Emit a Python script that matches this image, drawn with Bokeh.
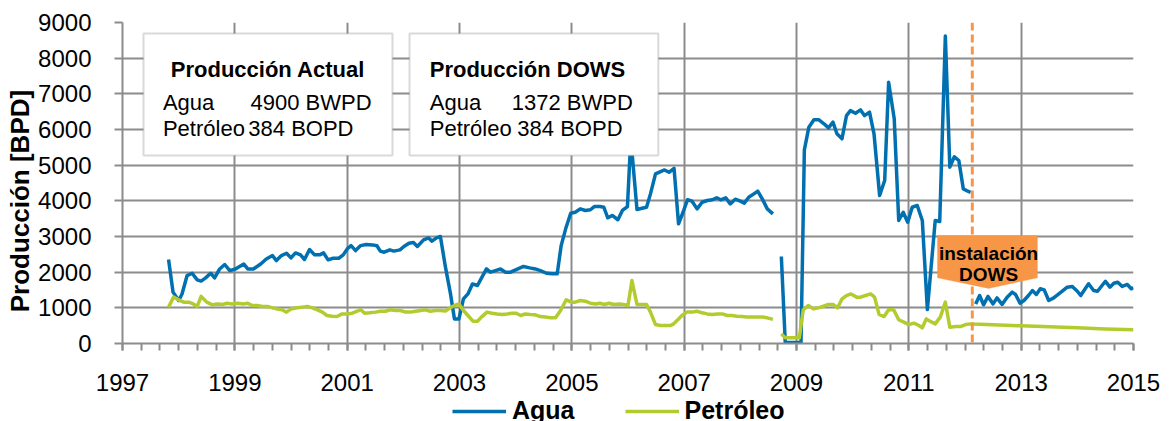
from bokeh.plotting import figure
from bokeh.layouts import column
from bokeh.models import (Range1d, FixedTicker, Span, BoxAnnotation, Label,
                          Legend, LegendItem, PolyAnnotation)
from bokeh.embed import file_html
from bokeh.resources import INLINE

FONT = "Liberation Sans"
BLUE = "#0070B0"
GREEN = "#B4CB2F"
ORANGE = "#F79646"
GRID = "#8C8C8C"
BOXLINE = "#808080"

# ---------------- data (decimal year, BPD) ----------------
agua_t1 = [1997.82, 1997.90, 1998.00, 1998.06, 1998.15, 1998.24, 1998.33, 1998.40, 1998.48, 1998.57,
           1998.64, 1998.73, 1998.82, 1998.91, 1999.01, 1999.16, 1999.23, 1999.33, 1999.46, 1999.56,
           1999.67, 1999.74, 1999.83, 1999.92, 2000.00, 2000.08, 2000.17, 2000.24, 2000.33, 2000.42,
           2000.51, 2000.58, 2000.66, 2000.75, 2000.85, 2000.93, 2001.01, 2001.07, 2001.15, 2001.24,
           2001.34, 2001.45, 2001.53, 2001.59, 2001.66, 2001.76, 2001.83, 2001.94, 2002.01, 2002.10,
           2002.18, 2002.25, 2002.36, 2002.45, 2002.51, 2002.59, 2002.66, 2002.75, 2002.84, 2002.91,
           2002.99, 2003.07, 2003.15, 2003.23, 2003.32, 2003.40, 2003.48, 2003.55, 2003.64, 2003.73,
           2003.82, 2003.91, 2004.00, 2004.14, 2004.25, 2004.35, 2004.44, 2004.55, 2004.65, 2004.74,
           2004.81, 2004.89, 2004.98, 2005.06, 2005.15, 2005.24, 2005.33, 2005.40, 2005.50, 2005.57,
           2005.64, 2005.72, 2005.82, 2005.90, 2005.99, 2006.05, 2006.16, 2006.25, 2006.33, 2006.40,
           2006.49, 2006.58, 2006.65, 2006.73, 2006.82, 2006.90, 2006.98, 2007.06, 2007.14, 2007.23,
           2007.32, 2007.41, 2007.50, 2007.58, 2007.65, 2007.74, 2007.82, 2007.91, 2008.00, 2008.07,
           2008.15, 2008.24, 2008.31, 2008.39, 2008.48, 2008.58]
agua_v1 = [2355, 1440, 1205, 1390, 1905, 1970, 1785, 1750, 1840, 1970,
           1840, 2090, 2215, 2045, 2090, 2230, 2090, 2090, 2230, 2370,
           2465, 2325, 2465, 2530, 2400, 2540, 2485, 2355, 2635, 2485,
           2485, 2540, 2345, 2390, 2390, 2485, 2670, 2745, 2605, 2745,
           2775, 2765, 2740, 2590, 2560, 2625, 2590, 2625, 2720, 2810,
           2830, 2720, 2905, 2960, 2870, 2960, 3000, 2140, 1390, 690,
           690, 1250, 1390, 1670, 1625, 1860, 2090, 2000, 2045, 2090,
           2000, 2000, 2065, 2160, 2120, 2090, 2045, 1970, 1955, 1955,
           2745, 3215, 3650, 3680, 3775, 3730, 3750, 3840, 3840, 3820,
           3525, 3590, 3470, 3730, 3840, 5750, 3755, 3790, 3820, 4195,
           4755, 4820, 4865, 4800, 4910, 3355, 3680, 4030, 3990, 3775,
           3960, 4010, 4030, 4085, 4030, 4085, 3915, 4045, 3990, 3935,
           4100, 4195, 4270, 4055, 3775, 3635]

agua_t2 = [2008.73, 2008.80, 2008.89, 2008.98, 2009.08, 2009.14, 2009.22, 2009.31, 2009.40, 2009.49,
           2009.57, 2009.65, 2009.72, 2009.81, 2009.89, 2009.96, 2010.05, 2010.14, 2010.21, 2010.30,
           2010.38, 2010.48, 2010.57, 2010.64, 2010.74, 2010.82, 2010.90, 2010.98, 2011.06, 2011.15,
           2011.24, 2011.33, 2011.47, 2011.55, 2011.65, 2011.73, 2011.81, 2011.89, 2011.97, 2012.05,
           2012.10]
agua_v2 = [2440, 30, 30, 30, 30, 5430, 6065, 6270, 6270, 6160,
           6045, 6205, 5880, 5740, 6390, 6530, 6455, 6550, 6390, 6485,
           5880, 4150, 4570, 7325, 6300, 3450, 3680, 3400, 3820, 3870,
           3450, 950, 3450, 3420, 8620, 4945, 5235, 5130, 4335, 4270,
           4240]

agua_t3 = [2012.19, 2012.26, 2012.33, 2012.41, 2012.50, 2012.57, 2012.66, 2012.75, 2012.84, 2012.90,
           2012.98, 2013.05, 2013.13, 2013.20, 2013.27, 2013.34, 2013.41, 2013.49, 2013.58, 2013.67,
           2013.76, 2013.82, 2013.91, 2014.00, 2014.06, 2014.14, 2014.20, 2014.29, 2014.36, 2014.44,
           2014.50, 2014.58, 2014.65, 2014.72, 2014.80, 2014.89, 2014.96, 2015.00]
agua_v3 = [1110, 1345, 1085, 1320, 1110, 1280, 1095, 1300, 1440, 1375,
           1130, 1205, 1345, 1485, 1375, 1535, 1505, 1205, 1280, 1390,
           1505, 1580, 1600, 1465, 1345, 1535, 1675, 1485, 1465, 1625,
           1745, 1580, 1690, 1720, 1600, 1655, 1535, 1560]

pet_t1 = [1997.82, 1997.91, 1998.00, 1998.09, 1998.18, 1998.26, 1998.33, 1998.40, 1998.50, 1998.60,
          1998.69, 1998.78, 1998.86, 1998.95, 1999.04, 1999.15, 1999.23, 1999.31, 1999.40, 1999.49,
          1999.58, 1999.67, 1999.75, 1999.84, 1999.92, 2000.00, 2000.11, 2000.20, 2000.29, 2000.38,
          2000.47, 2000.56, 2000.64, 2000.73, 2000.82, 2000.91, 2001.00, 2001.09, 2001.18, 2001.24,
          2001.31, 2001.40, 2001.50, 2001.59, 2001.68, 2001.77, 2001.86, 2001.95, 2002.04, 2002.13,
          2002.22, 2002.31, 2002.39, 2002.48, 2002.57, 2002.66, 2002.75, 2002.83, 2002.91, 2002.99,
          2003.07, 2003.15, 2003.24, 2003.32, 2003.40, 2003.49, 2003.58, 2003.67, 2003.76, 2003.85,
          2003.94, 2004.01, 2004.09, 2004.17, 2004.26, 2004.35, 2004.44, 2004.53, 2004.62, 2004.71,
          2004.80, 2004.90, 2004.99, 2005.06, 2005.15, 2005.24, 2005.33, 2005.42, 2005.50, 2005.58,
          2005.66, 2005.75, 2005.84, 2005.92, 2006.00, 2006.07, 2006.16, 2006.25, 2006.33, 2006.40,
          2006.49, 2006.58, 2006.67, 2006.76, 2006.81, 2006.90, 2006.96, 2007.05, 2007.14, 2007.23,
          2007.32, 2007.41, 2007.50, 2007.59, 2007.68, 2007.77, 2007.85, 2007.94, 2008.03, 2008.12,
          2008.21, 2008.30, 2008.39, 2008.48, 2008.58]
pet_v1 = [1020, 1300, 1225, 1160, 1160, 1110, 1040, 1320, 1160, 1085,
          1110, 1095, 1130, 1110, 1130, 1110, 1130, 1065, 1065, 1040,
          1040, 1000, 970, 945, 880, 970, 1000, 1020, 1040, 1000,
          945, 880, 785, 765, 755, 830, 830, 850, 905, 955,
          850, 860, 880, 905, 905, 945, 925, 925, 880, 880,
          905, 925, 945, 905, 925, 925, 910, 1000, 1065, 1110,
          925, 785, 625, 625, 755, 880, 850, 830, 815, 830,
          850, 850, 785, 830, 815, 805, 755, 740, 720, 720,
          925, 1225, 1160, 1160, 1205, 1185, 1130, 1110, 1130, 1095,
          1130, 1095, 1110, 1095, 1065, 1765, 1095, 1095, 1095, 880,
          530, 505, 505, 505, 550, 690, 785, 880, 880, 905,
          860, 830, 815, 830, 830, 785, 785, 765, 755, 740,
          740, 740, 740, 720, 675]

pet_t2 = [2008.73, 2008.80, 2008.89, 2008.98, 2009.05, 2009.12, 2009.21, 2009.30, 2009.39, 2009.48,
          2009.57, 2009.65, 2009.73, 2009.81, 2009.89, 2009.97, 2010.07, 2010.14, 2010.23, 2010.32,
          2010.39, 2010.47, 2010.56, 2010.64, 2010.73, 2010.82, 2010.91, 2011.00, 2011.09, 2011.18,
          2011.24, 2011.31, 2011.38, 2011.47, 2011.56, 2011.65, 2011.73, 2011.83, 2011.92, 2012.01,
          2012.10, 2012.15, 2012.50, 2013.00, 2013.50, 2014.00, 2014.50, 2015.00]
pet_v2 = [270, 160, 160, 160, 160, 945, 1065, 970, 1000, 1045,
          1095, 1095, 1000, 1250, 1345, 1390, 1300, 1300, 1345, 1390,
          1300, 815, 755, 945, 945, 665, 600, 530, 570, 505,
          440, 690, 625, 550, 740, 1160, 455, 475, 475, 530,
          550, 545, 525, 495, 470, 440, 410, 384]

year_ticks = [1997, 1999, 2001, 2003, 2005, 2007, 2009, 2011, 2013, 2015]
value_ticks = [0, 1000, 2000, 3000, 4000, 5000, 6000, 7000, 8000, 9000]
minor_x_ticks = [1997 + k / 3 for k in range(55)]

nan = float("nan")
agua_t = agua_t1 + [nan] + agua_t2 + [nan] + agua_t3
agua_v = agua_v1 + [nan] + agua_v2 + [nan] + agua_v3
pet_t = pet_t1 + [nan] + pet_t2
pet_v = pet_v1 + [nan] + pet_v2
assert len(agua_t) == len(agua_v) and len(pet_t) == len(pet_v)

# ---------------- main figure ----------------
p = figure(width=1167, height=400, output_backend="svg", toolbar_location=None,
           x_range=Range1d(1997, 2015), y_range=Range1d(0, 9000),
           min_border_left=122, min_border_right=34, min_border_top=22,
           min_border_bottom=57)
p.outline_line_color = None

p.xaxis.ticker = FixedTicker(ticks=year_ticks, minor_ticks=minor_x_ticks)
p.yaxis.ticker = FixedTicker(ticks=value_ticks)
p.xgrid.ticker = FixedTicker(ticks=year_ticks)
p.ygrid.ticker = FixedTicker(ticks=value_ticks)
p.grid.grid_line_color = GRID
p.grid.grid_line_width = 2

for ax in (p.xaxis, p.yaxis):
    ax.axis_line_color = GRID
    ax.axis_line_width = 2
    ax.major_tick_line_color = GRID
    ax.major_tick_line_width = 2
    ax.minor_tick_line_color = GRID
    ax.minor_tick_line_width = 2
    ax.major_tick_in = 0
    ax.minor_tick_in = 0
    ax.major_label_text_font = FONT
    ax.major_label_text_font_size = "24px"
    ax.major_label_text_color = "black"

p.xaxis.major_tick_out = 7
p.xaxis.minor_tick_out = 7
p.xaxis.major_label_standoff = 23
p.yaxis.major_tick_out = 8
p.yaxis.minor_tick_out = 0
p.yaxis.major_label_standoff = 23
p.yaxis.axis_label = "Producción [BPD]" + "\u00a0" * 5
p.yaxis.axis_label_text_font = FONT
p.yaxis.axis_label_text_font_size = "26px"
p.yaxis.axis_label_text_font_style = "bold"
p.yaxis.axis_label_text_color = "black"
p.yaxis.axis_label_standoff = 0

r_agua = p.line(agua_t, agua_v, line_color=BLUE, line_width=3.5, line_join="round")
r_pet = p.line(pet_t, pet_v, line_color=GREEN, line_width=3.5, line_join="round")

# DOWS installation marker
p.add_layout(Span(location=2012.13, dimension="height", line_color=ORANGE,
                  line_width=3, line_dash="8 4"))
p.add_layout(PolyAnnotation(xs=[2011.51, 2013.29, 2013.29, 2012.42, 2011.51],
                            ys=[3028, 3028, 1840, 1545, 1840],
                            fill_color=ORANGE, fill_alpha=1.0,
                            line_color=ORANGE, line_width=1))
for txt, yy in (("instalación", 2515), ("DOWS", 1934)):
    p.add_layout(Label(x=2012.42, y=yy, text=txt, text_align="center",
                       text_baseline="alphabetic", text_font=FONT,
                       text_font_size="19px", text_font_style="bold",
                       text_color="black"))

# information boxes
for left, right in ((1997.374, 2001.807), (2002.11, 2006.54)):
    p.add_layout(BoxAnnotation(left=left, right=right, top=8691, bottom=5271,
                               fill_color="white", fill_alpha=1.0,
                               line_color=BOXLINE, line_width=2))

box_texts = [
    ("Producción Actual", 1999.59, 7673, "center", "bold"),
    ("Agua", 1997.72, 6765, "left", "normal"),
    ("4900 BWPD", 1999.28, 6765, "left", "normal"),
    ("Petróleo", 1997.72, 6019, "left", "normal"),
    ("384 BOPD", 1999.24, 6019, "left", "normal"),
    ("Producción DOWS", 2002.47, 7673, "left", "bold"),
    ("Agua", 2002.47, 6765, "left", "normal"),
    ("1372 BWPD", 2003.93, 6765, "left", "normal"),
    ("Petróleo", 2002.47, 6019, "left", "normal"),
    ("384 BOPD", 2004.03, 6019, "left", "normal"),
]
for txt, xx, yy, al, st in box_texts:
    p.add_layout(Label(x=xx, y=yy, text=txt, text_align=al, text_baseline="alphabetic",
                       text_font=FONT, text_font_size="22px", text_font_style=st,
                       text_color="black"))

# ---------------- legend strip below the chart ----------------
# (its plot frame is aligned with the main frame by the column layout)
pl = figure(width=1167, height=21, output_backend="svg", toolbar_location=None,
            x_range=Range1d(0, 1), y_range=Range1d(0, 1),
            x_axis_location=None, y_axis_location=None, min_border=0)
pl.outline_line_color = None
pl.grid.visible = False
lg_agua = pl.line(x=[-5, -4], y=[-5, -5], line_color=BLUE, line_width=3.5)
lg_pet = pl.line(x=[-5, -4], y=[-5, -5], line_color=GREEN, line_width=3.5)
legend = Legend(items=[LegendItem(label="Agua", renderers=[lg_agua]),
                       LegendItem(label="Petróleo", renderers=[lg_pet])],
                orientation="horizontal", location=(330, -4),
                label_text_font=FONT, label_text_font_size="25px",
                label_text_font_style="bold", label_text_color="black",
                glyph_width=54, glyph_height=20, label_standoff=6, spacing=50,
                padding=0, margin=0, border_line_color=None,
                background_fill_alpha=0)
pl.add_layout(legend, "center")

open("out.html", "w").write(file_html(column(p, pl, spacing=0), INLINE))
